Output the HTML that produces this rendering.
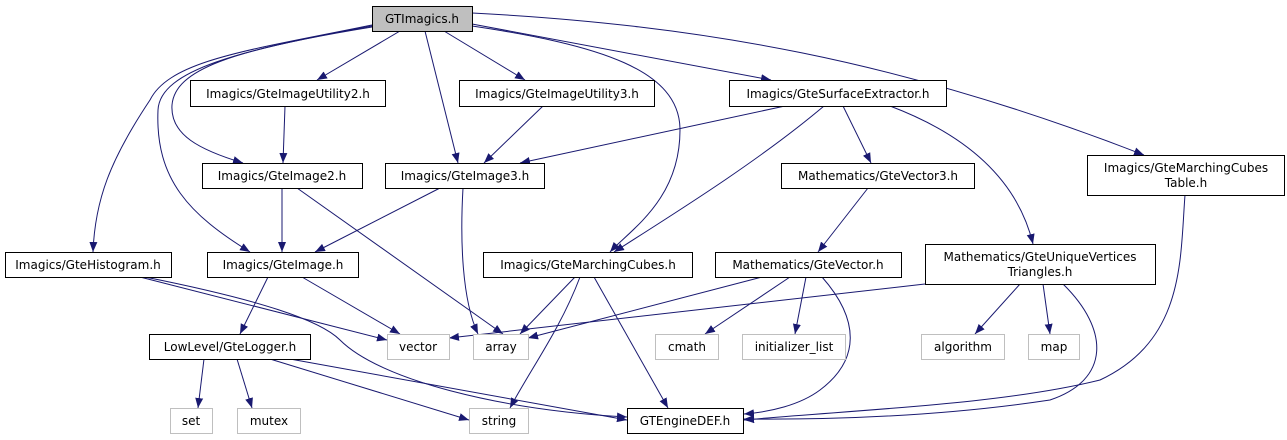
<!DOCTYPE html>
<html><head><meta charset="utf-8"><style>
html,body{margin:0;padding:0;background:#fff;width:1287px;height:440px;overflow:hidden}
svg text{font-family:"DejaVu Sans","Liberation Sans",sans-serif;font-size:12px;fill:#000}
</style></head><body>
<svg width="1287" height="440" viewBox="0 0 1287 440" xmlns="http://www.w3.org/2000/svg">
<defs><marker id="a" viewBox="0 0 10 10" refX="10" refY="5" markerWidth="10" markerHeight="10" markerUnits="userSpaceOnUse" orient="auto"><path d="M0,1 L10,5 L0,9 z" fill="#191970"/></marker></defs>
<g fill="none" stroke="#191970" stroke-width="1" marker-end="url(#a)">
<path d="M400,31 L317,80"/>
<path d="M444,31 L525,80"/>
<path d="M425,31 L458,163"/>
<path d="M472,24 L771,80"/>
<path d="M472,13 C700,25 900,60 1144,155"/>
<path d="M372,25 C250,50 170,60 150,100 C110,160 95,200 93,252"/>
<path d="M372,26 C240,50 160,70 158,110 C155,180 190,215 250,252"/>
<path d="M372,27 C230,50 175,70 172,105 C170,135 200,150 243,163"/>
<path d="M472,26 C600,45 680,70 680,130 C680,200 630,230 610,252"/>
<path d="M285,106 L283,163"/>
<path d="M543,106 L484,163"/>
<path d="M785,106 L520,163"/>
<path d="M824,106 C760,160 680,210 614,252"/>
<path d="M843,106 L871,163"/>
<path d="M890,106 C980,140 1020,190 1033,244"/>
<path d="M282,188 L282,252"/>
<path d="M297,188 L503,334"/>
<path d="M440,188 L315,252"/>
<path d="M463,188 C460,240 462,300 478,334"/>
<path d="M868,188 L818,252"/>
<path d="M1185,195 C1180,260 1185,340 1100,380 C1000,405 850,410 744,420"/>
<path d="M140,277 L387,340"/>
<path d="M145,277 C260,300 320,320 340,340 C380,380 500,410 627,417"/>
<path d="M268,277 L240,334"/>
<path d="M302,277 L400,334"/>
<path d="M575,277 L520,334"/>
<path d="M580,277 C560,330 530,370 510,408"/>
<path d="M594,277 L668,408"/>
<path d="M762,277 L528,338"/>
<path d="M790,277 L705,334"/>
<path d="M806,277 L795,334"/>
<path d="M822,277 C860,320 860,360 820,390 C800,405 770,412 744,414"/>
<path d="M925,284 L449,338"/>
<path d="M1020,284 L975,334"/>
<path d="M1043,284 L1050,334"/>
<path d="M1063,284 C1110,330 1110,380 1050,400 C950,415 850,420 744,419"/>
<path d="M204,359 L198,408"/>
<path d="M237,359 L252,408"/>
<path d="M270,359 L469,420"/>
<path d="M290,359 L627,420"/>
</g>
<g stroke-width="1">
<rect x="372.5" y="6.5" width="100" height="25" fill="#bfbfbf" stroke="#000"/>
<rect x="190.5" y="80.5" width="195" height="26" fill="#fff" stroke="#000"/>
<rect x="459.5" y="80.5" width="195" height="26" fill="#fff" stroke="#000"/>
<rect x="729.5" y="80.5" width="217" height="26" fill="#fff" stroke="#000"/>
<rect x="202.5" y="163.5" width="160" height="25" fill="#fff" stroke="#000"/>
<rect x="385.5" y="163.5" width="159" height="25" fill="#fff" stroke="#000"/>
<rect x="781.5" y="163.5" width="193" height="25" fill="#fff" stroke="#000"/>
<rect x="1087.5" y="155.5" width="197" height="40" fill="#fff" stroke="#000"/>
<rect x="5.5" y="252.5" width="166" height="25" fill="#fff" stroke="#000"/>
<rect x="207.5" y="252.5" width="151" height="25" fill="#fff" stroke="#000"/>
<rect x="483.5" y="252.5" width="209" height="25" fill="#fff" stroke="#000"/>
<rect x="715.5" y="252.5" width="186" height="25" fill="#fff" stroke="#000"/>
<rect x="925.5" y="244.5" width="230" height="40" fill="#fff" stroke="#000"/>
<rect x="149.5" y="334.5" width="161" height="25" fill="#fff" stroke="#000"/>
<rect x="387.5" y="334.5" width="62" height="25" fill="#fff" stroke="#bfbfbf"/>
<rect x="473.5" y="334.5" width="55" height="25" fill="#fff" stroke="#bfbfbf"/>
<rect x="655.5" y="334.5" width="63" height="25" fill="#fff" stroke="#bfbfbf"/>
<rect x="742.5" y="334.5" width="103" height="25" fill="#fff" stroke="#bfbfbf"/>
<rect x="921.5" y="334.5" width="83" height="25" fill="#fff" stroke="#bfbfbf"/>
<rect x="1028.5" y="334.5" width="51" height="25" fill="#fff" stroke="#bfbfbf"/>
<rect x="170.5" y="408.5" width="42" height="25" fill="#fff" stroke="#bfbfbf"/>
<rect x="237.5" y="408.5" width="63" height="25" fill="#fff" stroke="#bfbfbf"/>
<rect x="469.5" y="408.5" width="59" height="25" fill="#fff" stroke="#bfbfbf"/>
<rect x="627.5" y="408.5" width="116" height="25" fill="#fff" stroke="#000"/>
</g>
<g text-anchor="middle">
<text x="422" y="23">GTImagics.h</text>
<text x="288" y="98">Imagics/GteImageUtility2.h</text>
<text x="557" y="98">Imagics/GteImageUtility3.h</text>
<text x="838" y="98">Imagics/GteSurfaceExtractor.h</text>
<text x="282" y="180">Imagics/GteImage2.h</text>
<text x="465" y="180">Imagics/GteImage3.h</text>
<text x="878" y="180">Mathematics/GteVector3.h</text>
<text x="1186" y="172">Imagics/GteMarchingCubes</text>
<text x="1186" y="187">Table.h</text>
<text x="88" y="269">Imagics/GteHistogram.h</text>
<text x="283" y="269">Imagics/GteImage.h</text>
<text x="588" y="269">Imagics/GteMarchingCubes.h</text>
<text x="808" y="269">Mathematics/GteVector.h</text>
<text x="1040" y="261">Mathematics/GteUniqueVertices</text>
<text x="1040" y="276">Triangles.h</text>
<text x="230" y="351">LowLevel/GteLogger.h</text>
<g fill="#000"><text x="418" y="351">vector</text>
<text x="501" y="351">array</text>
<text x="687" y="351">cmath</text>
<text x="794" y="351">initializer_list</text>
<text x="963" y="351">algorithm</text>
<text x="1054" y="351">map</text>
<text x="191" y="425">set</text>
<text x="269" y="425">mutex</text>
<text x="499" y="425">string</text></g>
<text x="685" y="425">GTEngineDEF.h</text>
</g>
</svg>
</body></html>
